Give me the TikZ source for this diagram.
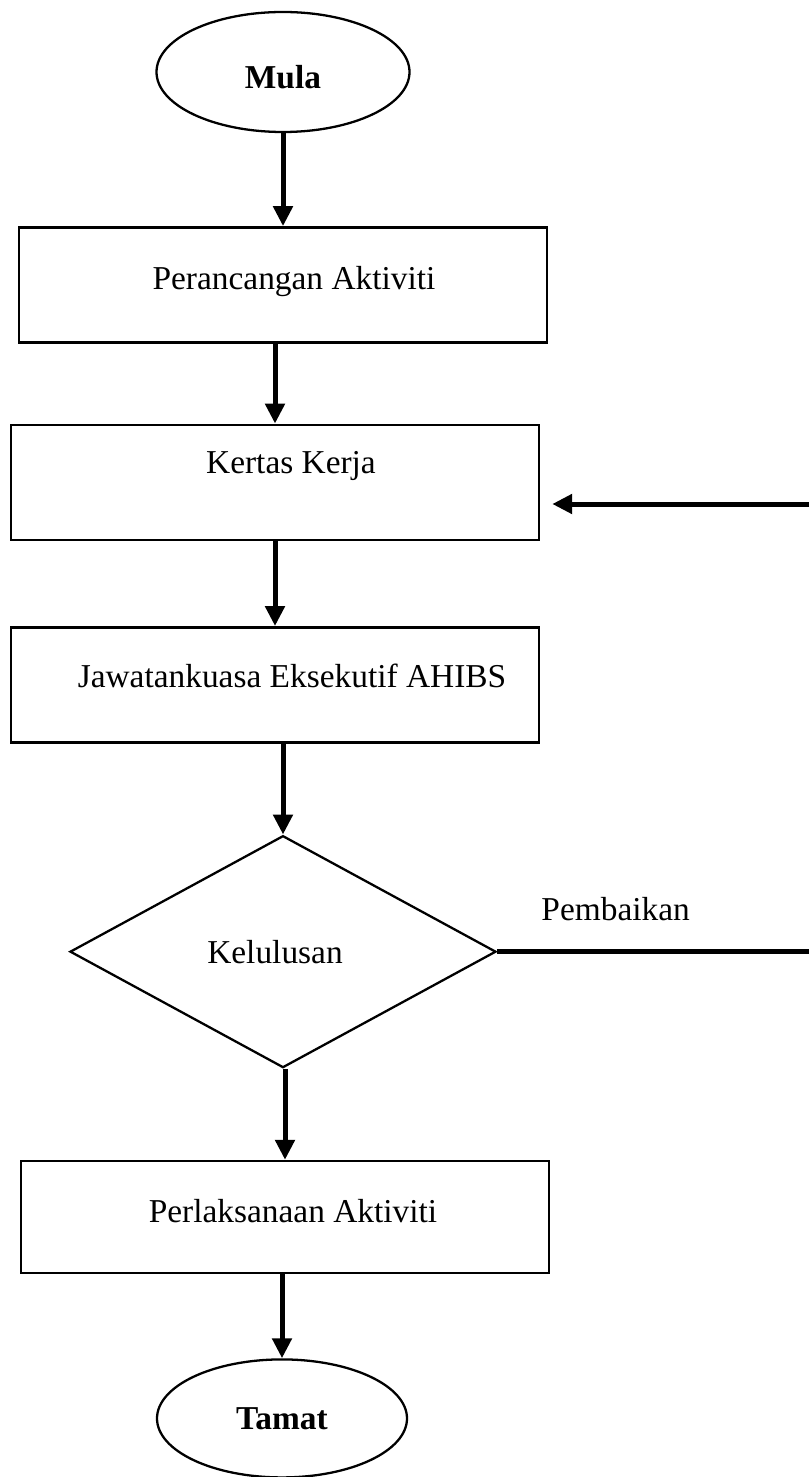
\documentclass[tikz,border=0pt]{standalone}
\usepackage{fontspec}
\setmainfont{Liberation Serif}
\usetikzlibrary{positioning, arrows.meta, shapes.geometric}

\begin{document}
\begin{tikzpicture}[node distance=1.8cm, every node/.style={font=\fontsize{19}{23}\selectfont},
    kotak/.style={rectangle, draw, line width=1.4pt, minimum width=10.56cm, minimum height=2.3cm},
    bujur/.style={ellipse, draw, line width=1.3pt, inner sep=0pt, font=\fontsize{19}{23}\selectfont\bfseries},
    putus/.style={diamond, draw, line width=1.3pt, inner sep=0pt, minimum width=8.52cm, minimum height=4.64cm},
    naik/.style={text height=0.5cm, text depth=#1},
    geser/.style={execute at begin node={\hspace*{#1}}},
    anak/.style={-{Triangle[length=0.4cm, width=0.38cm]}, line width=0.1cm}]
        \useasboundingbox (0,0) rectangle (16.18,-29.54);
        \node[bujur, minimum width=5.06cm, minimum height=2.4cm, text height=0.68cm] (mula) at (5.66,-1.44) {Mula};
        \node[kotak, below=1.86cm of mula, naik=0.32cm, geser=0.44cm] (rancang) {Perancangan Aktiviti};
        \node[kotak, below=1.60cm of rancang, xshift=-0.16cm, naik=0.84cm, geser=0.64cm] (kertas) {Kertas Kerja};
        \node[kotak, below=1.70cm of kertas, naik=0.38cm, geser=0.68cm] (jawatan) {Jawatankuasa Eksekutif AHIBS};
        \node[putus, below=1.82cm of jawatan, xshift=0.16cm, geser=-0.32cm] (lulus) {Kelulusan};
        \node[kotak, below=1.82cm of lulus, xshift=0.04cm, minimum height=2.24cm, naik=0.28cm, geser=0.32cm] (laksana) {Perlaksanaan Aktiviti};
        \node[bujur, minimum width=5.0cm, minimum height=2.36cm, below=1.68cm of laksana, xshift=-0.06cm] (tamat) {Tamat};
        \coordinate (tepi) at (16.18,-10.08);
        % Arrows
        \draw[anak] (mula) -- (rancang);
        \draw[anak] (rancang.south -| kertas.north) -- (kertas.north);
        \draw[anak] (kertas) -- (jawatan);
        \draw[anak] (jawatan.south -| lulus.north) -- (lulus.north);
        \draw[anak] (lulus.south -| laksana.north) -- (laksana.north);
        \draw[anak] (laksana.south -| tamat.north) -- (tamat.north);
        % Pembaikan
        \draw[line width=0.1cm] (lulus.east) -- (lulus.east -| tepi) node[pos=0.38, yshift=0.86cm]{Pembaikan};
        \draw[anak, shorten >=0.24cm] (tepi) -- (tepi -| kertas.east);
    \end{tikzpicture}
\end{document}
